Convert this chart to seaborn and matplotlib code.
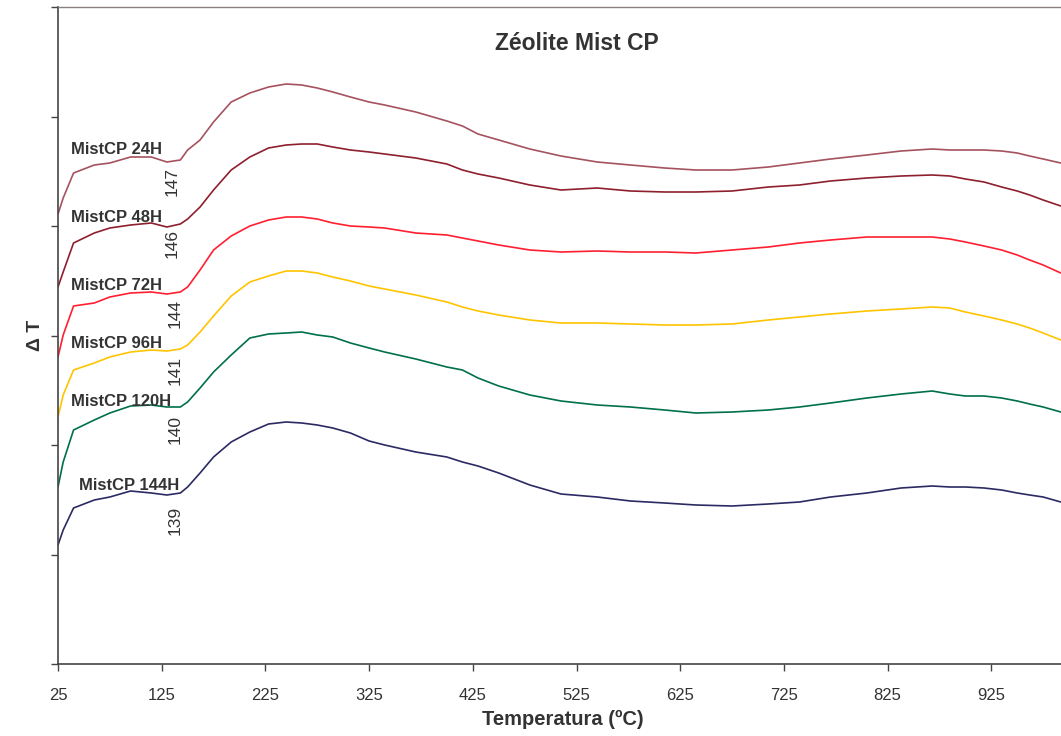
import numpy as np
import pandas as pd
import matplotlib
matplotlib.use("Agg")
import matplotlib.pyplot as plt
import seaborn as sns

# Temperature grid (ºC)
temperature = [25, 30, 40, 60, 75, 95, 115, 130, 143, 150, 162, 175, 192, 210, 228, 245, 260, 275,
               290, 307, 325, 340, 370, 400, 415, 430, 450, 480, 510, 545, 577, 610, 640, 675,
               710, 740, 770, 805, 838, 868, 885, 900, 918, 935, 950, 962, 975, 992]

# Delta T (arbitrary units, curves offset vertically)
mist_24h = [450, 466, 491, 499, 501, 507, 507, 502, 504, 514, 524, 542, 562, 571, 577, 580, 579, 576,
            572, 567, 562, 559, 552, 543, 538, 530, 524, 515, 508, 502, 499, 496, 494, 494,
            497, 501, 505, 509, 513, 515, 514, 514, 514, 513, 511, 508, 505, 501]
mist_48h = [377, 392, 421, 431, 436, 439, 441, 437, 440, 445, 457, 474, 494, 507, 516, 519, 520, 520,
            517, 514, 512, 510, 506, 500, 494, 490, 486, 479, 474, 476, 473, 472, 472, 473,
            477, 479, 483, 486, 488, 489, 488, 485, 482, 477, 473, 469, 464, 458]
mist_72h = [307, 329, 358, 361, 367, 371, 372, 370, 372, 377, 394, 414, 428, 438, 444, 447, 447, 445,
            441, 438, 437, 436, 431, 429, 426, 423, 419, 414, 412, 413, 412, 412, 411, 414,
            417, 421, 424, 427, 427, 427, 425, 422, 418, 414, 409, 404, 399, 391]
mist_96h = [247, 269, 294, 301, 307, 312, 314, 313, 315, 319, 332, 348, 368, 382, 388, 393, 393, 391,
            387, 383, 378, 375, 369, 362, 357, 353, 349, 344, 341, 341, 340, 339, 339, 340,
            344, 347, 350, 353, 355, 357, 356, 352, 348, 344, 340, 336, 331, 324]
mist_120h = [177, 202, 234, 244, 251, 258, 259, 257, 257, 262, 276, 292, 309, 326, 330, 331, 332, 329,
             327, 321, 316, 312, 305, 297, 294, 286, 278, 269, 263, 259, 257, 254, 251, 252,
             254, 257, 261, 266, 270, 273, 270, 268, 268, 266, 263, 260, 257, 252]
mist_144h = [119, 134, 156, 164, 167, 173, 171, 169, 171, 177, 191, 207, 222, 232, 240, 242, 241, 239,
             236, 231, 223, 219, 212, 207, 202, 198, 191, 179, 170, 167, 163, 161, 159, 158,
             160, 162, 167, 171, 176, 178, 177, 177, 176, 174, 171, 169, 167, 162]

series_names = ["MistCP 24H", "MistCP 48H", "MistCP 72H", "MistCP 96H", "MistCP 120H", "MistCP 144H"]
peak_labels = ["147", "146", "144", "141", "140", "139"]
x_ticks = [25, 125, 225, 325, 425, 525, 625, 725, 825, 925]

colors = ["#A5525F", "#8E1F2E", "#FF1F30", "#FFC400", "#00704A", "#2B2A63"]

all_series = [mist_24h, mist_48h, mist_72h, mist_96h, mist_120h, mist_144h]
df = pd.concat([pd.DataFrame({"T": temperature, "dT": vals, "serie": name})
                for name, vals in zip(series_names, all_series)], ignore_index=True)

sns.set_theme(style="white")
plt.rcParams['font.family'] = ['Liberation Sans', 'DejaVu Sans']
txt = "#333333"

fig = plt.figure(figsize=(10.61, 7.36), dpi=100)
ax = fig.add_axes([58 / 1061, 72 / 736, 1037 / 1061, 657 / 736])

sns.lineplot(data=df, x="T", y="dT", hue="serie", palette=dict(zip(series_names, colors)),
             linewidth=1.2, legend=False, ax=ax, sort=False, estimator=None)

ax.set_xlim(25, 1025)
ax.set_ylim(0, 657)
ax.set_xticks(x_ticks)
ax.set_xticklabels([str(t) for t in x_ticks])
ax.set_yticks(np.linspace(0, 657, 7))
ax.set_yticklabels([])
ax.tick_params(axis="both", direction="out", length=5, width=1, color="#444444",
               labelsize=12, labelcolor=txt, pad=12, left=True, bottom=True)
for side in ["left", "bottom"]:
    ax.spines[side].set_color("#444444")
    ax.spines[side].set_linewidth(1.2)
ax.spines["top"].set_color("#8a7f7f")
ax.spines["top"].set_linewidth(1.0)
ax.spines["right"].set_visible(False)
ax.set_xlabel("")
ax.set_ylabel("")

fig.text(563 / 1061, (736 - 719) / 736, "Temperatura (ºC)", fontsize=14.5, fontweight="bold",
         color=txt, ha="center", va="center")
fig.text(35 / 1061, (736 - 335) / 736, "Δ T", fontsize=14, fontweight="bold", color=txt,
         ha="center", va="center", rotation=90)
ax.text(525, 620, "Zéolite Mist CP", fontsize=16.5, fontweight="bold", color=txt,
        ha="center", va="center")

# Series name labels
name_pos = [(38, 514), (38, 447), (38, 378), (38, 320), (38, 263), (45, 178)]
for name, (xx, yy) in zip(series_names, name_pos):
    ax.text(xx, yy, name, fontsize=12, fontweight="bold", color=txt, ha="left", va="center")

# Peak temperature labels (rotated)
peak_pos = [(135, 482), (135, 421), (138, 351), (138, 294), (138, 234), (138, 144)]
for lab, (xx, yy) in zip(peak_labels, peak_pos):
    ax.text(xx, yy, lab, fontsize=12.5, color=txt, rotation=90, ha="center", va="center")

fig.savefig("out.png", dpi=100)
